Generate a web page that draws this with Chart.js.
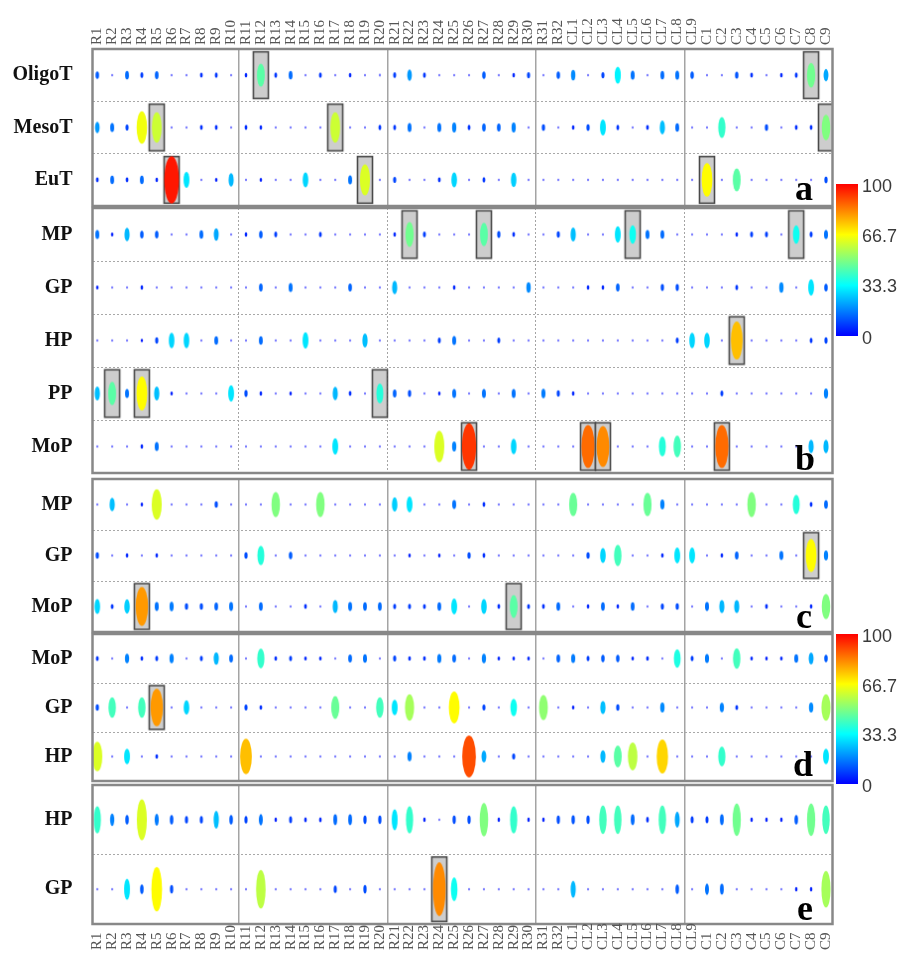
<!DOCTYPE html>
<html>
<head>
<meta charset="utf-8">
<script src="https://cdn.jsdelivr.net/npm/chart.js@4.4.0/dist/chart.umd.min.js"></script>
<style>
html, body { margin:0; padding:0; background:#fff; width:899px; height:954px; overflow:hidden; position:relative; }
canvas { position:absolute; left:0; }
.letter { position:absolute; font-family:'Liberation Serif', serif; font-weight:bold; font-size:36px; line-height:1; color:#000; }
.cbar { position:absolute; left:836px; width:22px;
  background:linear-gradient(to top, rgb(0,0,255) 0%, rgb(0,255,255) 33.3%, rgb(128,255,128) 50%, rgb(255,255,0) 66.7%, rgb(255,0,0) 100%); }
.ctick { position:absolute; left:862px; font-family:'Liberation Sans', Arial, sans-serif; font-size:18px; color:#3a3a3a; transform:translateY(-50%); line-height:1; }
</style>
</head>
<body>
<canvas id="pa"></canvas>
<canvas id="pb"></canvas>
<canvas id="pc"></canvas>
<canvas id="pd"></canvas>
<canvas id="pe"></canvas>
<canvas id="bottomLabels"></canvas>

<div class="letter" style="left:795px;top:170px">a</div>
<div class="letter" style="left:795px;top:440px">b</div>
<div class="letter" style="left:796px;top:598px">c</div>
<div class="letter" style="left:793px;top:746px">d</div>
<div class="letter" style="left:797px;top:890px">e</div>

<div class="cbar" style="top:184px;height:152px"></div>
<div class="ctick" style="top:186px">100</div>
<div class="ctick" style="top:236px">66.7</div>
<div class="ctick" style="top:286px">33.3</div>
<div class="ctick" style="top:338px">0</div>

<div class="cbar" style="top:634px;height:150px"></div>
<div class="ctick" style="top:636px">100</div>
<div class="ctick" style="top:686px">66.7</div>
<div class="ctick" style="top:735px">33.3</div>
<div class="ctick" style="top:786px">0</div>

<script>
// ---- column labels ----
const COLS = [
  'R1','R2','R3','R4','R5','R6','R7','R8','R9','R10',
  'R11','R12','R13','R14','R15','R16','R17','R18','R19','R20',
  'R21','R22','R23','R24','R25','R26','R27','R28','R29','R30',
  'R31','R32',
  'CL1','CL2','CL3','CL4','CL5','CL6','CL7','CL8','CL9',
  'C1','C2','C3','C4','C5','C6','C7','C8','C9'
];
// group separators (between R10/R11, R20/R21, R30/R31, CL8/CL9)
const SEPS = [9.5, 19.5, 29.5, 39.5];

// ---- panel a ----
const rowsA = ['OligoT', 'MesoT', 'EuT'];
const oligoT = [12,1,14,8,13,1,1,6,7,1, 5,45,7,14,1,7,1,5,1,2, 8,20,7,1,1,1,12,1,5,9, 1,12, 18,1,9,32,15,1,14,15,12, 1,1,11,6,1,5,7,48,22];
const mesoT  = [20,15,9,65,60,1,1,6,6,1, 6,5,1,1,1,1,60,1,1,7, 7,15,1,15,17,7,13,13,17,1, 10,1, 5,10,30,7,1,6,25,14,1, 1,40,1,1,10,1,6,6,50];
const euT    = [6,14,6,14,5,97,30,1,4,24, 1,4,1,1,28,1,1,15,62,1, 9,1,1,6,28,1,7,1,27,1, 1,1, 1,1,1,1,1,1,1,1,1, 67,1,45,1,1,1,1,1,10];
const boxA   = [['R12','C8'], ['R5','R17','C9'], ['R6','R19','C1']];

// ---- panel b ----
const rowsB = ['MP', 'GP', 'HP', 'PP', 'MoP'];
const bMP  = [15,4,24,12,12,1,1,14,22,1, 5,12,8,1,1,7,1,1,1,1, 5,48,8,1,1,1,45,10,6,1, 1,9, 25,1,1,30,35,15,14,1,1, 1,1,5,8,8,1,35,8,15];
const bGP  = [4,1,1,5,1,1,1,1,1,1, 1,13,1,15,1,1,1,13,1,1, 24,1,1,1,5,1,1,1,1,18, 1,1, 1,5,5,13,1,1,10,10,1, 1,1,7,1,1,18,1,30,12];
const bHP  = [1,1,1,3,9,28,28,1,14,1, 1,14,1,1,30,1,1,1,25,1, 1,1,1,8,15,1,1,8,1,1, 1,1, 1,1,1,1,1,1,1,8,28, 28,1,75,1,1,1,1,7,9];
const bPP  = [25,45,15,67,25,4,1,1,1,30, 10,5,1,4,1,1,24,6,1,38, 13,10,1,4,15,1,15,1,15,1, 16,9, 5,1,1,1,1,1,1,1,1, 1,8,1,1,1,1,1,1,17];
const bMoP = [1,1,1,5,15,1,1,1,1,1, 1,1,1,1,1,1,30,1,1,1, 1,1,1,62,17,93,1,1,28,1, 1,1, 1,86,82,1,1,1,38,42,1, 1,86,1,1,1,1,1,24,24];
const boxB = [['R22','R27','CL5','C7'], [], ['C3'], ['R2','R4','R20'], ['R26','CL2','CL3','C2']];

// ---- panel c ----
const rowsC = ['MP', 'GP', 'MoP'];
const cMP  = [1,25,1,4,62,1,1,1,10,1, 1,1,50,1,1,50,1,1,1,1, 27,30,1,1,15,1,6,1,1,1, 1,1, 47,1,1,1,1,47,17,1,1, 1,1,1,50,1,1,38,6,14];
const cGP  = [10,1,5,1,5,1,1,1,1,1, 10,38,1,12,1,1,1,1,1,1, 1,4,1,4,1,10,6,1,1,1, 1,1, 1,10,28,42,1,1,5,30,30, 1,5,13,1,1,15,1,67,17];
const cMoP = [28,7,27,80,15,16,10,10,13,15, 1,14,1,1,6,1,24,15,14,14, 8,8,7,14,30,1,28,6,45,7, 6,14, 1,5,14,5,14,1,9,10,1, 15,24,24,1,6,1,1,5,50];
const boxC = [[], ['C8'], ['R4','R29']];

// ---- panel d ----
const rowsD = ['MoP', 'GP', 'HP'];
const dMoP = [7,1,17,6,8,17,1,8,24,14, 1,40,6,8,5,5,1,14,15,1, 9,6,6,16,14,1,17,5,5,5, 1,13, 16,8,12,12,5,6,1,37,8, 16,1,42,5,4,5,15,22,12];
const dGP  = [10,42,1,42,80,1,28,1,1,1, 9,6,1,1,1,1,47,1,1,42, 30,55,1,1,67,1,9,1,35,1, 52,1, 4,1,25,10,1,1,18,1,1, 1,17,7,1,1,1,1,18,55];
const dHP  = [62,1,30,1,6,1,1,1,1,1, 75,1,1,1,1,1,1,1,1,1, 1,17,1,1,1,90,22,1,9,1, 1,1, 1,1,24,45,58,1,72,1,1, 1,40,1,1,1,1,1,1,30];
const boxD = [[], ['R5'], []];

// ---- panel e ----
const rowsE = ['HP', 'GP'];
const eHP = [40,17,12,62,16,12,9,9,25,12, 9,15,4,8,5,5,14,14,10,10, 30,40,4,1,10,10,50,4,40,4, 4,10, 11,10,42,42,14,6,42,22,8, 8,14,48,4,4,4,12,48,42];
const eGP = [1,1,30,12,67,10,1,1,1,1, 1,58,1,1,1,1,9,1,10,1, 1,1,1,82,35,1,1,1,1,1, 1,1, 24,1,1,1,1,1,1,12,1, 15,14,1,1,1,1,4,4,55];
const boxE = [[], ['R24']];

// ---- layout ----
const XMIN = -0.32, XMAX = 49.44;
const PLOT_LEFT = 92.5, PLOT_RIGHT_PAD = 66.5;
const COL_FONT = 15;
// Chart.js shifts rotated labels of a top axis by one line height; shift them back
const COL_SHIFT = COL_FONT * 1.2;

const PANELS = [
  { id:'pa', rows:rowsA, data:[oligoT, mesoT, euT], boxed:boxA, top:49, bottom:207, dotted:false },
  { id:'pb', rows:rowsB, data:[bMP, bGP, bHP, bPP, bMoP], boxed:boxB, top:207, bottom:474, dotted:true },
  { id:'pc', rows:rowsC, data:[cMP, cGP, cMoP], boxed:boxC, top:478, bottom:633, dotted:false },
  { id:'pd', rows:rowsD, data:[dMoP, dGP, dHP], boxed:boxD, top:633, bottom:782, dotted:false },
  { id:'pe', rows:rowsE, data:[eHP, eGP], boxed:boxE, top:784, bottom:925, dotted:false }
];

// ── jet colour map ──
const JET = [[0,[0,0,255]], [33.3,[0,255,255]], [50,[128,255,128]], [66.7,[255,255,0]], [100,[255,0,0]]];
function jet(v) {
  for (let i = 1; i < JET.length; i++) {
    if (v <= JET[i][0]) {
      const [v0, c0] = JET[i-1], [v1, c1] = JET[i];
      const t = (v - v0) / (v1 - v0);
      return c0.map((c, k) => Math.round(c + (c1[k] - c) * t));
    }
  }
  return JET[JET.length-1][1];
}

// ── ellipse mark (optionally inside a grey box) ──
const markCache = {};
function mark(v, boxed, rowH) {
  const key = v + '|' + boxed + '|' + rowH.toFixed(2);
  if (markCache[key]) return markCache[key];
  const k  = rowH / 52.5;
  const ew = 2 + v * 0.13;
  const eh = 2 + v * 0.47 * k;
  const bw = 15, bh = rowH - 6;
  let W = Math.ceil(Math.max(ew, boxed ? bw : 0)) + 4;
  let H = Math.ceil(Math.max(eh, boxed ? bh : 0)) + 4;
  if (W % 2) W++;
  if (H % 2) H++;
  const c = document.createElement('canvas');
  c.width = W; c.height = H;
  const g = c.getContext('2d');
  if (boxed) {
    g.fillStyle = '#cdcdcd';
    g.fillRect(W/2 - bw/2, H/2 - bh/2, bw, bh);
    g.strokeStyle = '#4a4a4a';
    g.lineWidth = 1.6;
    g.strokeRect(W/2 - bw/2, H/2 - bh/2, bw, bh);
  }
  const [r, gg, b] = jet(v);
  g.fillStyle = v <= 2 ? `rgba(${r},${gg},${b},0.55)` : `rgb(${r},${gg},${b})`;
  g.beginPath();
  g.ellipse(W/2, H/2, ew/2, eh/2, 0, 0, Math.PI * 2);
  g.fill();
  markCache[key] = c;
  return c;
}

// ── panel frame ──
const framePlugin = {
  id: 'frame',
  afterDraw(chart) {
    const { ctx, chartArea: a } = chart;
    ctx.save();
    ctx.strokeStyle = '#888';
    ctx.lineWidth = 2.5;
    ctx.strokeRect(a.left, a.top, a.right - a.left, a.bottom - a.top);
    ctx.restore();
  }
};

function colTicks(scale) { scale.ticks = COLS.map((c, i) => ({ value: i })); }

const colTickOpts = pad => ({
  autoSkip: false, minRotation: 90, maxRotation: 90, padding: pad, labelOffset: COL_SHIFT,
  font: { family: 'Liberation Serif', size: COL_FONT }, color: '#555',
  callback: v => COLS[v]
});

function buildPanel(p, idx) {
  const canvas = document.getElementById(p.id);
  const first = idx === 0;
  const canvasTop = first ? 0 : p.top - 3;
  const canvasH = p.bottom + 3 - canvasTop;
  canvas.style.top = canvasTop + 'px';
  canvas.width = 899;
  canvas.height = canvasH;
  const rowH = (p.bottom - p.top) / p.rows.length;

  const points = [], styles = [];
  p.rows.forEach((row, ri) => {
    p.data[ri].forEach((v, ci) => {
      points.push({ x: ci, y: row });
      styles.push(mark(v, p.boxed[ri].includes(COLS[ci]), rowH));
    });
  });

  new Chart(canvas, {
    type: 'scatter',
    data: { datasets: [{ data: points, pointRadius: 3, pointHoverRadius: 3,
                         pointStyle: ctx => styles[ctx.dataIndex] || 'circle' }] },
    options: {
      responsive: false,
      animation: false,
      events: [],
      layout: { padding: { top: first ? 0 : 3, bottom: 3, left: 0, right: PLOT_RIGHT_PAD } },
      plugins: { legend: { display: false }, tooltip: { enabled: false } },
      scales: {
        x: {
          type: 'linear', position: 'top', min: XMIN, max: XMAX, bounds: 'data',
          display: first,
          afterBuildTicks: colTicks,
          ticks: colTickOpts(4),
          grid: { display: false, drawTicks: false },
          border: { display: false },
          afterFit: s => { s.height = first ? p.top : 0; s.paddingLeft = 0; s.paddingRight = 0; }
        },
        xg: {
          type: 'linear', axis: 'x', position: 'bottom', min: XMIN, max: XMAX, bounds: 'data',
          afterBuildTicks: s => { s.ticks = SEPS.map(v => ({ value: v })); },
          ticks: { display: false },
          grid: { color: '#a4a4a4', lineWidth: p.dotted ? 1 : 1.5, drawTicks: false },
          border: { display: false, dash: p.dotted ? [2, 2] : [] },
          afterFit: s => { s.height = 0; s.paddingLeft = 0; s.paddingRight = 0; }
        },
        y: {
          type: 'category', labels: p.rows, offset: true, position: 'left',
          grid: { offset: true, color: '#a8a8a8', lineWidth: 1, drawTicks: false },
          border: { display: false, dash: [2, 2] },
          ticks: { padding: 20, color: '#111',
                   font: { family: 'Liberation Serif', size: 20, weight: 'bold' } },
          afterFit: s => { s.width = PLOT_LEFT; s.paddingTop = 0; s.paddingBottom = 0; }
        }
      }
    },
    plugins: [framePlugin]
  });
}

PANELS.forEach(buildPanel);

// ── bottom column labels (read upwards from the bottom edge) ──
(function () {
  const canvas = document.getElementById('bottomLabels');
  canvas.style.top = '918px';
  canvas.width = 899;
  canvas.height = 36;
  new Chart(canvas, {
    type: 'scatter',
    data: { datasets: [{ data: [] }] },
    options: {
      responsive: false, animation: false, events: [],
      layout: { padding: { top: 0, bottom: 0, left: PLOT_LEFT, right: PLOT_RIGHT_PAD } },
      plugins: { legend: { display: false }, tooltip: { enabled: false } },
      scales: {
        x: {
          type: 'linear', position: 'top', min: XMIN, max: XMAX, bounds: 'data',
          afterBuildTicks: colTicks,
          ticks: colTickOpts(3),
          grid: { display: false, drawTicks: false },
          border: { display: false },
          afterFit: s => { s.height = 35; s.paddingLeft = 0; s.paddingRight = 0; }
        },
        y: { display: false, min: 0, max: 1 }
      }
    }
  });
})();
</script>
</body>
</html>
